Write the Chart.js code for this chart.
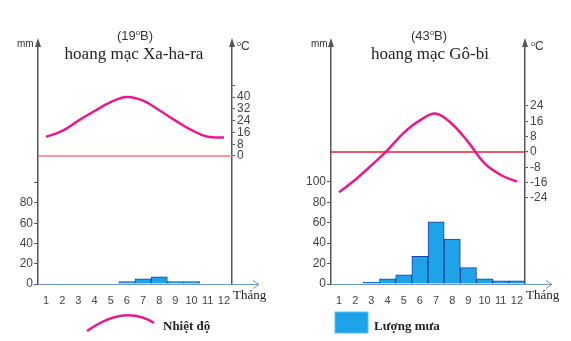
<!DOCTYPE html>
<html>
<head>
<meta charset="utf-8">
<script src="https://cdn.jsdelivr.net/npm/chart.js@4.4.0/dist/chart.umd.min.js"></script>
<style>
  body { margin: 0; background: #fff; }
  #wrap { position: relative; width: 571px; height: 341px; overflow: hidden;
          font-family: "Liberation Sans", Arial, sans-serif; color: #333; }
  canvas { position: absolute; top: 0; }
  .t { position: absolute; white-space: nowrap; transform: translate(-50%, -50%); line-height: 1; }
  .lat { font-size: 13px; }
  .name { font-family: "Liberation Serif", "Times New Roman", serif; font-size: 17px; color: #222; }
  .unit { font-size: 10px; transform: translate(0, -50%); }
  .deg { font-size: 12px; transform: translate(0, -50%); }
  .deg sup, .lat sup { font-size: 0.6em; vertical-align: 0.6em; }
  .month { font-family: "Liberation Serif", serif; font-size: 13px; transform: translate(0, -50%); color: #222; }
  .leg { font-family: "Liberation Serif", serif; font-weight: bold; font-size: 13px; transform: translate(0, -50%); color: #222; }
</style>
</head>
<body>
<div id="wrap">
  <canvas id="sahara" width="285" height="341" style="left:0"></canvas>
  <canvas id="gobi" width="286" height="341" style="left:285px"></canvas>

  <div class="t lat" style="left:135px;top:35px">(19<sup>o</sup>B)</div>
  <div class="t name" style="left:134px;top:53px">hoang mạc Xa-ha-ra</div>
  <div class="t unit" style="left:17px;top:44px">mm</div>
  <div class="t deg" style="left:237px;top:46px"><sup>o</sup>C</div>
  <div class="t month" style="left:233px;top:294px">Tháng</div>

  <div class="t lat" style="left:429px;top:35px">(43<sup>o</sup>B)</div>
  <div class="t name" style="left:430px;top:53px">hoang mạc Gô-bi</div>
  <div class="t unit" style="left:311px;top:44px">mm</div>
  <div class="t deg" style="left:531px;top:46px"><sup>o</sup>C</div>
  <div class="t month" style="left:526px;top:294px">Tháng</div>

  <svg style="position:absolute;left:0;top:0" width="571" height="341">
    <path d="M87 331 Q125 304 154 323" fill="none" stroke="#e8198b" stroke-width="2.5"/>
    <rect x="335" y="312" width="33" height="21" fill="#1ea3ea" stroke="#5cc0f2" stroke-width="1"/>
  </svg>
  <div class="t leg" style="left:163px;top:325px">Nhiệt độ</div>
  <div class="t leg" style="left:374px;top:325px">Lượng mưa</div>
</div>

<script>
const months = ['1', '2', '3', '4', '5', '6', '7', '8', '9', '10', '11', '12'];

// Xa-ha-ra
const saharaTemp = [13, 17, 24, 30.5, 36.5, 40, 37.5, 31, 24, 17.5, 13, 12.5];
const saharaRain = [0, 0, 0, 0, 0, 2.5, 5, 7, 2.5, 2.5, 0, 0];

// Gô-bi
const gobiTemp = [-21, -14.5, -7, 1, 10, 16.5, 20, 14.5, 5, -6, -12, -15.5];
const gobiRain = [0, 0, 2, 5, 9, 27, 61, 44, 16, 5, 3, 3];

const axisColor = '#555';

// red 0°C line, axis arrows, month axis arrow
const decor = {
  id: 'decor',
  beforeDatasetsDraw(chart, args, opts) {
    const { ctx, chartArea: a, scales } = chart;
    const y0 = scales.y1.getPixelForValue(0);
    ctx.save();
    ctx.strokeStyle = opts.zeroColor;
    ctx.lineWidth = 1.3;
    ctx.beginPath();
    ctx.moveTo(a.left, y0);
    ctx.lineTo(a.right, y0);
    ctx.stroke();
    ctx.restore();
  },
  afterDraw(chart) {
    const { ctx, chartArea: a } = chart;
    ctx.save();
    ctx.fillStyle = axisColor;
    [a.left, a.right].forEach(x => {
      ctx.beginPath();
      ctx.moveTo(x, a.top - 4);
      ctx.lineTo(x - 3, a.top + 5);
      ctx.lineTo(x + 3, a.top + 5);
      ctx.closePath();
      ctx.fill();
    });
    // x axis line with open arrow
    const y = a.bottom + 0.5;
    const end = a.right + 27;
    ctx.strokeStyle = '#6f95d6';
    ctx.lineWidth = 1;
    ctx.beginPath();
    ctx.moveTo(a.left, y);
    ctx.lineTo(end, y);
    ctx.moveTo(end - 6, y - 4);
    ctx.lineTo(end, y);
    ctx.lineTo(end - 6, y + 4);
    ctx.stroke();
    ctx.restore();
  }
};

function tickColor(lo, hi) {
  return c => (c.tick && c.tick.value >= lo && c.tick.value <= hi) ? axisColor : 'rgba(0,0,0,0)';
}

function makeChart(id, temps, rain, s) {
  new Chart(document.getElementById(id), {
    type: 'bar',
    data: {
      labels: months,
      datasets: [
        {
          type: 'line',
          data: temps,
          yAxisID: 'y1',
          borderColor: '#e8198b',
          borderWidth: 2.5,
          pointRadius: 0,
          tension: 0.4,
          order: 0
        },
        {
          data: rain,
          yAxisID: 'y',
          backgroundColor: '#1ea3ea',
          borderColor: '#203f9e',
          borderWidth: 1,
          borderSkipped: 'start',
          barPercentage: 1,
          categoryPercentage: 1,
          order: 1
        }
      ]
    },
    options: {
      responsive: false,
      animation: false,
      layout: { padding: { top: 42 } },
      plugins: {
        legend: { display: false },
        tooltip: { enabled: false },
        decor: { zeroColor: s.zeroColor }
      },
      scales: {
        x: {
          offset: true,
          grid: { display: false },
          border: { display: false },
          ticks: { color: '#444', font: { size: 11 }, padding: 2, maxRotation: 0, autoSkip: false },
          afterFit: sc => { sc.height = 57; }
        },
        y: {
          position: 'left',
          min: 0,
          max: s.mmMax,
          border: { color: axisColor, width: 1.5 },
          grid: { drawOnChartArea: false, tickLength: 4, color: tickColor(0, 100) },
          ticks: {
            stepSize: 20, autoSkip: false, padding: 1, color: '#444', font: { size: 12 },
            callback: v => (v <= s.mmLabelMax ? v : '')
          },
          afterFit: sc => { sc.width = s.leftW; }
        },
        y1: {
          position: 'right',
          min: s.tMin,
          max: s.tMax,
          border: { color: axisColor, width: 1.5 },
          grid: { drawOnChartArea: false, tickLength: 3, color: tickColor(s.tTickLo, s.tTickHi) },
          ticks: {
            stepSize: 8, autoSkip: false, includeBounds: false, padding: 2, color: '#444', font: { size: 12 },
            callback: v => (v >= s.tLabelLo && v <= s.tLabelHi ? v : '')
          },
          afterFit: sc => { sc.width = s.rightW; }
        }
      }
    },
    plugins: [decor]
  });
}

makeChart('sahara', saharaTemp, saharaRain, {
  mmMax: 239, mmLabelMax: 80, leftW: 38, rightW: 53,
  tMin: -86.8, tMax: 77.3, tTickLo: 0, tTickHi: 48, tLabelLo: 0, tLabelHi: 40,
  zeroColor: '#f27a7a'
});

makeChart('gobi', gobiTemp, gobiRain, {
  mmMax: 237, mmLabelMax: 100, leftW: 46, rightW: 46,
  tMin: -68.9, tMax: 57.4, tTickLo: -24, tTickHi: 24, tLabelLo: -24, tLabelHi: 24,
  zeroColor: '#e8202a'
});
</script>
</body>
</html>
